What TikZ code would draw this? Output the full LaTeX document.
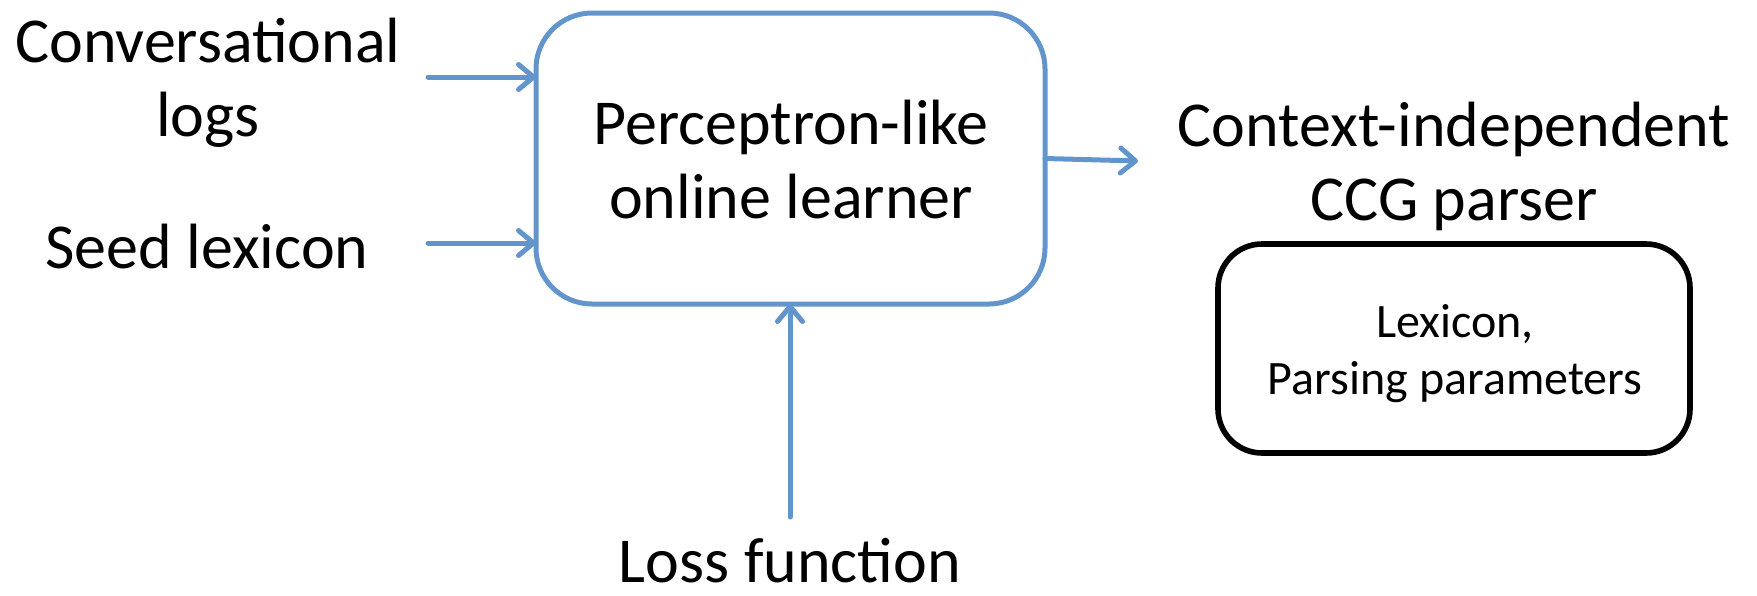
\documentclass[tikz,border=0pt]{standalone}
\usepackage{fontspec}
\setmainfont{Carlito}
\usetikzlibrary{arrows.meta}
\definecolor{boxblue}{RGB}{98,149,203}
\begin{document}
\begin{tikzpicture}[x=0.5pt,y=-0.5pt,
  bigtext/.style={inner sep=0pt, align=center, font=\fontsize{32}{37}\selectfont},
  smalltext/.style={inner sep=0pt, align=center, font=\fontsize{24}{28.5}\selectfont},
  learnerbox/.style={draw=boxblue, line width=2.5pt, rounded corners=28pt, outer sep=0pt,
     minimum width=254.5pt, minimum height=145.5pt, inner sep=0pt},
  parserbox/.style={draw=black, line width=2.8pt, rounded corners=22pt, outer sep=0pt,
     minimum width=236pt, minimum height=104.5pt, inner sep=0pt},
  flow/.style={draw=boxblue, line width=2.5pt, line cap=round,
     -{Straight Barb[round,length=7.5pt,width=12.5pt]}}]
\useasboundingbox (0,0) rectangle (1757,595);
% boxes
\node[learnerbox] (learner) at (790.5,158.5) {};
\node[bigtext] (learnertext) at (791,160) {Perceptron-like\\online learner};
\node[parserbox] (parser) at (1454,348.5) {};
\node[smalltext] (parsertext) at (1455,354) {Lexicon,\\Parsing parameters};
% labels
\node[bigtext] (conv) at (208,83) {Conversational\\logs};
\node[bigtext] (seed) at (207,246) {Seed lexicon};
\node[bigtext] (ccg) at (1454,166) {Context-independent\\CCG parser};
\node[bigtext] (loss) at (790,561) {Loss function};
% connector ends
\coordinate (convstart) at (428,77);
\coordinate (seedstart) at (428,243);
\coordinate (outend) at (1138,161);
\coordinate (lossstart) at (790,517);
% connectors
\draw[flow] (convstart) -- (convstart -| learner.west);
\draw[flow] (seedstart) -- (seedstart -| learner.west);
\draw[flow] (learner.east) -- (outend);
\draw[flow] (lossstart) -- (lossstart |- learner.south);
\end{tikzpicture}
\end{document}
